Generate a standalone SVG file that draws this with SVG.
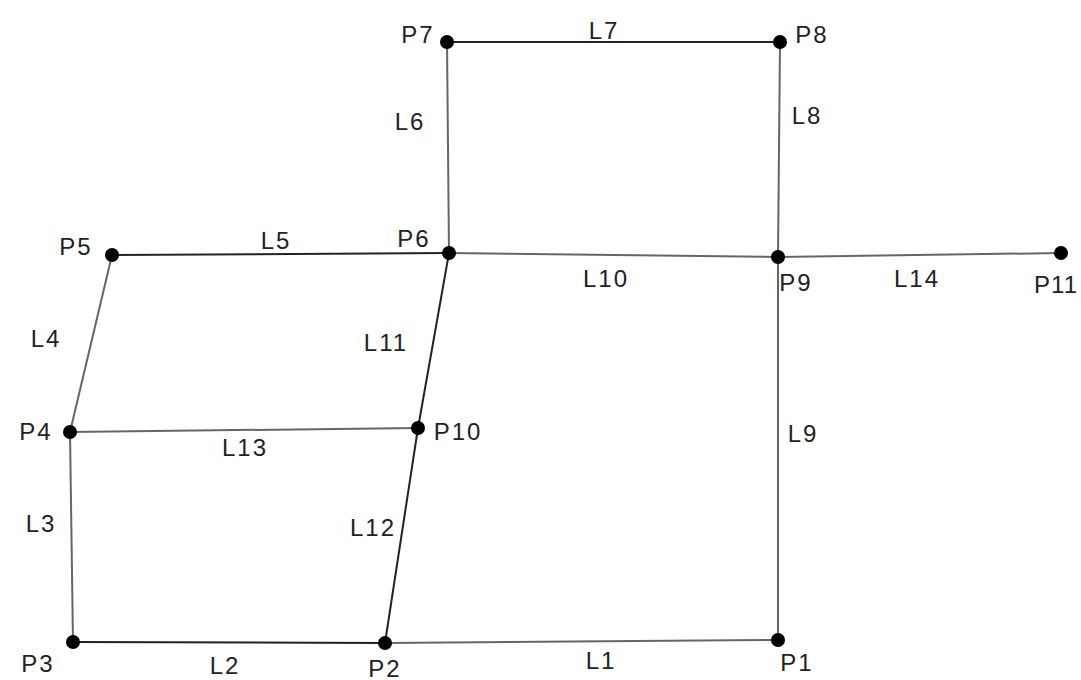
<svg xmlns="http://www.w3.org/2000/svg" width="1081" height="680" viewBox="0 0 1081 680">
<style>
.e{stroke:#666;stroke-width:2;fill:none}
.d{stroke:#222}
.n circle{fill:#000}
text{font-family:"Liberation Sans",Arial,sans-serif;font-size:24px;fill:#222;text-anchor:middle;dominant-baseline:central;letter-spacing:2px}
</style>
<rect width="1081" height="680" fill="#fff"/>
<g id="connectors">
<line id="L1" class="e" x1="385" y1="643" x2="778" y2="640"/>
<line id="L2" class="e d" x1="73" y1="642" x2="385" y2="643"/>
<line id="L3" class="e" x1="70" y1="432" x2="73" y2="642"/>
<line id="L4" class="e" x1="112" y1="255" x2="70" y2="432"/>
<line id="L5" class="e d" x1="112" y1="255" x2="449" y2="253"/>
<line id="L6" class="e" x1="447" y1="42" x2="449" y2="253"/>
<line id="L7" class="e d" x1="447" y1="42" x2="780" y2="42"/>
<line id="L8" class="e" x1="780" y1="42" x2="778" y2="257"/>
<line id="L9" class="e" x1="778" y1="257" x2="778" y2="640"/>
<line id="L10" class="e" x1="449" y1="253" x2="778" y2="257"/>
<line id="L11" class="e d" x1="449" y1="253" x2="418" y2="428"/>
<line id="L12" class="e d" x1="418" y1="428" x2="385" y2="643"/>
<line id="L13" class="e" x1="70" y1="432" x2="418" y2="428"/>
<line id="L14" class="e" x1="778" y1="257" x2="1061" y2="253"/>
<text x="604" y="30">L7</text>
<text x="410" y="121">L6</text>
<text x="807" y="115">L8</text>
<text x="276" y="240">L5</text>
<text x="606" y="278">L10</text>
<text x="917" y="278">L14</text>
<text x="46" y="338">L4</text>
<text x="386" y="342">L11</text>
<text x="245" y="447">L13</text>
<text x="803" y="433">L9</text>
<text x="41" y="523">L3</text>
<text x="373" y="527">L12</text>
<text x="225" y="665">L2</text>
<text x="601" y="660">L1</text>
</g>
<g id="P1" class="n"><circle cx="778" cy="640" r="7"/><text x="797" y="662">P1</text></g>
<g id="P2" class="n"><circle cx="385" cy="643" r="7"/><text x="385" y="668">P2</text></g>
<g id="P3" class="n"><circle cx="73" cy="642" r="7"/><text x="38" y="663">P3</text></g>
<g id="P4" class="n"><circle cx="70" cy="432" r="7"/><text x="36" y="431">P4</text></g>
<g id="P5" class="n"><circle cx="112" cy="255" r="7"/><text x="76" y="246">P5</text></g>
<g id="P6" class="n"><circle cx="449" cy="253" r="7"/><text x="414" y="238">P6</text></g>
<g id="P7" class="n"><circle cx="447" cy="42" r="7"/><text x="418" y="34">P7</text></g>
<g id="P8" class="n"><circle cx="780" cy="42" r="7"/><text x="812" y="34">P8</text></g>
<g id="P9" class="n"><circle cx="778" cy="257" r="7"/><text x="796" y="282">P9</text></g>
<g id="P10" class="n"><circle cx="418" cy="428" r="7"/><text x="458" y="431">P10</text></g>
<g id="P11" class="n"><circle cx="1061" cy="253" r="7"/><text x="1078" y="284" style="text-anchor:end;letter-spacing:1px">P11</text></g>
</svg>
